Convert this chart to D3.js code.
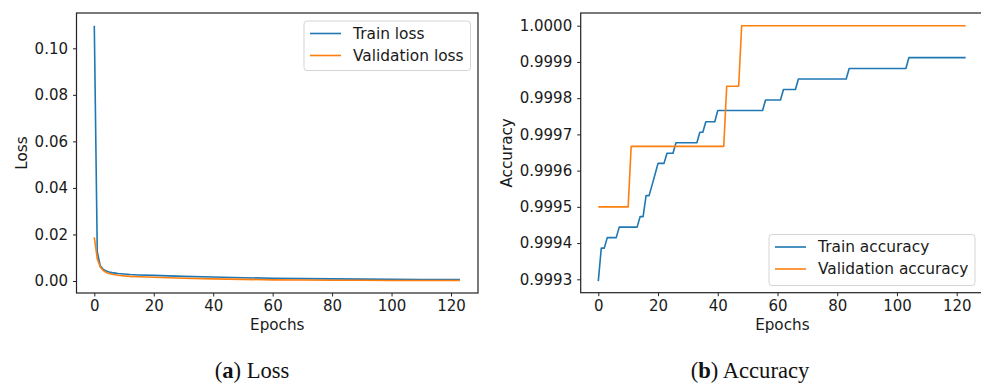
<!DOCTYPE html>
<html>
<head>
<meta charset="utf-8">
<script src="https://cdn.jsdelivr.net/npm/d3@7"></script>
<style>
  body { margin: 0; background: #fff; }
  svg { display: block; }
  .tick text { font-family: "DejaVu Sans", sans-serif; font-size: 15px; fill: #1a1a1a; }
  .lbl { font-family: "DejaVu Sans", sans-serif; font-size: 15.2px; fill: #1a1a1a; }
  .leg { font-family: "DejaVu Sans", sans-serif; font-size: 15.4px; fill: #1a1a1a; }
  .cap { font-family: "Liberation Serif", serif; font-size: 22.6px; fill: #111; }
</style>
</head>
<body>
<svg id="chart" width="981" height="383"></svg>
<script>
// loss curves, sampled epochs
const lossEpochs = [0, 1, 2, 3, 4, 5, 6, 7, 8, 10, 12, 15, 20, 25, 30, 40, 50, 60, 70, 80, 90, 100, 110, 123];
const trainLoss = [0.1097, 0.0125, 0.0065, 0.0050, 0.0043, 0.0039, 0.0036, 0.0034, 0.0032, 0.0030, 0.0028, 0.0026,
  0.0024, 0.0022, 0.0020, 0.0017, 0.0014, 0.0012, 0.0010, 0.0009, 0.0008, 0.0007, 0.0006, 0.0006];
const valLoss = [0.0188, 0.0095, 0.0060, 0.0045, 0.0037, 0.0032, 0.0029, 0.0027, 0.0025, 0.0022, 0.0020, 0.0018,
  0.0016, 0.0014, 0.0012, 0.0009, 0.0007, 0.0005, 0.0004, 0.0003, 0.0003, 0.0002, 0.0002, 0.0002];

// accuracy curves, epochs where the line bends
const trainAccEpochs = [0, 1, 2, 3, 6, 7, 13, 14, 15, 16, 17, 18, 19, 20, 22, 23, 25, 26, 33, 34, 35, 36, 39,
  40, 55, 56, 61, 62, 66, 67, 83, 84, 103, 104, 123];
const trainAcc = [0.999295, 0.999386, 0.999386, 0.999415, 0.999415, 0.999444, 0.999444, 0.999473, 0.999473,
  0.999531, 0.999531, 0.99956, 0.99959, 0.99962, 0.99962, 0.999648, 0.999648, 0.999677, 0.999677,
  0.999706, 0.999706, 0.999735, 0.999735, 0.999766, 0.999766, 0.999795, 0.999795, 0.999824, 0.999824,
  0.999853, 0.999853, 0.999882, 0.999882, 0.999912, 0.999912];
const valAccEpochs = [0, 10, 11, 42, 43, 47, 48, 123];
const valAcc = [0.9995, 0.9995, 0.999667, 0.999667, 0.999833, 0.999833, 1.0, 1.0];

const epochTicks = [0, 20, 40, 60, 80, 100, 120];
const lossTicks = [0, 0.02, 0.04, 0.06, 0.08, 0.10];
const accTicks = [0.9993, 0.9994, 0.9995, 0.9996, 0.9997, 0.9998, 0.9999, 1.0];

const blue = "#1f77b4", orange = "#ff7f0e";
const svg = d3.select("#chart");

function panel(opt) {
  const g = svg.append("g");
  const x = d3.scaleLinear().domain([0, 120]).range(opt.xr);
  const y = d3.scaleLinear().domain(opt.yd).range(opt.yr);
  const [bx0, bx1, by0, by1] = opt.box;

  const line = d3.line().x(d => x(d[0])).y(d => y(d[1]));
  opt.series.forEach(s => {
    g.append("path")
      .datum(d3.zip(s.ex, s.vals))
      .attr("fill", "none")
      .attr("stroke", s.color)
      .attr("stroke-width", 1.6)
      .attr("stroke-linejoin", "round")
      .attr("d", line);
  });

  const xa = g.append("g")
    .attr("transform", "translate(0," + by1 + ")")
    .call(d3.axisBottom(x).tickValues(epochTicks).tickSize(3.5).tickPadding(4));
  const ya = g.append("g")
    .attr("transform", "translate(" + bx0 + ",0)")
    .call(d3.axisLeft(y).tickValues(opt.yticks).tickSize(3.5).tickPadding(5).tickFormat(opt.fmt));
  [xa, ya].forEach(a => {
    a.select(".domain").remove();
    a.selectAll(".tick line").attr("stroke", "#222").attr("stroke-width", 1);
  });

  g.append("rect")
    .attr("x", bx0).attr("y", by0)
    .attr("width", bx1 - bx0).attr("height", by1 - by0)
    .attr("fill", "none").attr("stroke", "#222").attr("stroke-width", 1.2);

  g.append("text").attr("class", "lbl")
    .attr("x", (bx0 + bx1) / 2).attr("y", 330)
    .attr("text-anchor", "middle").text("Epochs");
  g.append("text").attr("class", "lbl")
    .attr("transform", "translate(" + opt.ylx + "," + (by0 + by1) / 2 + ") rotate(-90)")
    .attr("text-anchor", "middle").attr("dy", "0.35em").text(opt.ylabel);

  // legend
  const [lx0, lx1, ly0, ly1] = opt.leg;
  g.append("rect")
    .attr("x", lx0).attr("y", ly0).attr("width", lx1 - lx0).attr("height", ly1 - ly0)
    .attr("rx", 3).attr("fill", "#fff").attr("fill-opacity", 0.8)
    .attr("stroke", "#d5d5d5").attr("stroke-width", 1);
  opt.series.forEach((s, i) => {
    const yy = ly0 + 12.5 + i * 22;
    g.append("line")
      .attr("x1", lx0 + 6).attr("x2", lx0 + 37)
      .attr("y1", yy).attr("y2", yy)
      .attr("stroke", s.color).attr("stroke-width", 1.6);
    g.append("text").attr("class", "leg")
      .attr("x", lx0 + 49).attr("y", yy).attr("dy", "0.35em")
      .text(s.name);
  });

  const cap = g.append("text").attr("class", "cap")
    .attr("x", opt.capx).attr("y", 378).attr("text-anchor", "middle");
  cap.append("tspan").text("(");
  cap.append("tspan").attr("font-weight", "bold").text(opt.capLetter);
  cap.append("tspan").text(") " + opt.capText);
}

panel({
  xr: [94.3, 451],
  yd: [0, 0.10], yr: [281, 48.3],
  box: [76.5, 478, 13, 293],
  yticks: lossTicks, fmt: d3.format(".2f"),
  ylabel: "Loss", ylx: 22,
  leg: [304, 470.5, 21, 70.5],
  capx: 252, capLetter: "a", capText: "Loss",
  series: [
    { name: "Train loss", color: blue, ex: lossEpochs, vals: trainLoss },
    { name: "Validation loss", color: orange, ex: lossEpochs, vals: valLoss }
  ]
});

panel({
  xr: [598.3, 956.7],
  yd: [0.9993, 1.0], yr: [279.3, 25.7],
  box: [580.7, 984, 13, 292.7],
  yticks: accTicks, fmt: d3.format(".4f"),
  ylabel: "Accuracy", ylx: 507,
  leg: [769, 975, 234.5, 285.5],
  capx: 750, capLetter: "b", capText: "Accuracy",
  series: [
    { name: "Train accuracy", color: blue, ex: trainAccEpochs, vals: trainAcc },
    { name: "Validation accuracy", color: orange, ex: valAccEpochs, vals: valAcc }
  ]
});
</script>
</body>
</html>
